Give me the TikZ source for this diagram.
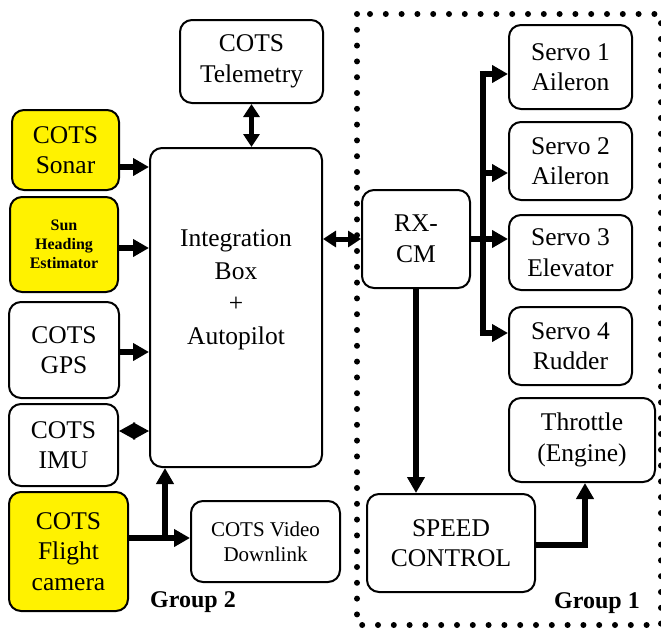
\documentclass[tikz,border=0pt]{standalone}
\usepackage{fontspec}
\setmainfont{Liberation Serif}
\usetikzlibrary{arrows.meta}
\begin{document}
\begin{tikzpicture}[x=1pt,y=-1pt,
  box/.style={draw,line width=2pt,rounded corners=12pt,inner sep=0pt,align=center,
    font=\fontsize{25.5}{30.5}\selectfont},
  hot/.style={box,fill=yellow},
  wire/.style={line width=6.5pt},
  arr/.style={wire,-{Triangle[length=16pt,width=17pt]}},
  darr/.style={line width=5pt,{Triangle[length=13pt,width=16pt]}-{Triangle[length=13pt,width=16pt]}},
  grouplabel/.style={font=\bfseries\fontsize{24}{28}\selectfont}]
\useasboundingbox (0,0) rectangle (661,629);

% group 1 frame (right edge runs along the page border)
\begin{scope}
\clip (0,0) rectangle (661,629);
\draw[line width=6pt,line cap=round,dash pattern=on 0pt off 15.8pt] (357,14) rectangle (661,625);
\end{scope}

% group 2 blocks
\node[box,minimum width=143pt,minimum height=83pt] (tel) at (251.5,61.5) {COTS\\Telemetry};
\node[box,minimum width=172pt,minimum height=319pt] (integ) at (236,307.5) {};
\node[align=center,font=\fontsize{25.5}{32.5}\selectfont] (integtext) at (236,290) {Integration\\Box\\+\\Autopilot};
\node[hot,minimum width=107pt,minimum height=80pt] (sonar) at (65.5,150) {COTS\\Sonar};
\node[hot,minimum width=108pt,minimum height=95pt,font=\bfseries\fontsize{16}{19}\selectfont] (sun) at (64,244.5) {Sun\\Heading\\Estimator};
\node[box,minimum width=110pt,minimum height=96pt] (gps) at (64,350) {COTS\\GPS};
\node[box,minimum width=109pt,minimum height=82pt] (imu) at (63.5,445) {COTS\\IMU};
\node[hot,minimum width=119pt,minimum height=119pt] (cam) at (68.5,551.5) {COTS\\Flight\\camera};
\node[box,minimum width=149pt,minimum height=81pt,font=\fontsize{21}{25}\selectfont] (vid) at (265.5,541.5) {COTS Video\\Downlink};
\node[grouplabel] (g2) at (193,602) {Group 2};

% group 1 blocks
\node[box,minimum width=108pt,minimum height=98pt] (rx) at (416,239) {RX-\\CM};
\node[box,minimum width=123pt,minimum height=84pt] (s1) at (570.5,67) {Servo 1\\Aileron};
\node[box,minimum width=123pt,minimum height=78pt] (s2) at (570.5,161) {Servo 2\\Aileron};
\node[box,minimum width=123pt,minimum height=75pt] (s3) at (570.5,252.5) {Servo 3\\Elevator};
\node[box,minimum width=123pt,minimum height=78pt] (s4) at (570.5,346) {Servo 4\\Rudder};
\node[box,minimum width=146pt,minimum height=84pt] (thr) at (582,440) {Throttle\\(Engine)};
\node[box,minimum width=168pt,minimum height=98pt] (spd) at (451,543) {SPEED\\CONTROL};
\node[grouplabel] (g1) at (597,603) {Group 1};

% sensor inputs
\draw[darr] (tel.south) -- (tel.south |- integ.north);
\draw[arr] ([yshift=-17pt]sonar.east) -- ([yshift=-17pt]sonar.east -| integ.west);
\draw[arr] ([yshift=-3.5pt]sun.east) -- ([yshift=-3.5pt]sun.east -| integ.west);
\draw[arr] ([yshift=-2pt]gps.east) -- ([yshift=-2pt]gps.east -| integ.west);
\draw[line width=2pt,{Triangle[length=16pt,width=17pt]}-{Triangle[length=16pt,width=17pt]}]
  ([yshift=14pt]imu.east) -- ([yshift=14pt]imu.east -| integ.west);

% camera feeds
\coordinate (camjoin) at (165,538);
\draw[arr] (cam.east |- camjoin) -- (vid.west |- camjoin);
\draw[arr] (camjoin) -- (camjoin |- integ.south);

% autopilot to receiver
\draw[darr] (integ.east |- rx.west) -- (rx.west);

% receiver to servos
\coordinate (bustop) at (483,74);
\coordinate (busbot) at (483,333);
\draw[wire] (rx.east) -- (rx.east -| bustop);
\draw[wire] ([yshift=3.25pt]bustop) -- ([yshift=-3.25pt]busbot);
\draw[arr] ([xshift=-3.25pt]bustop) -- (s1.west |- bustop);
\draw[arr] (bustop |- 0,173) -- (s2.west |- 0,173);
\draw[arr] (rx.east -| bustop) -- (rx.east -| s3.west);
\draw[arr] ([xshift=-3.25pt]busbot) -- (s4.west |- busbot);

% speed control chain
\draw[arr] (rx.south) -- (rx.south |- spd.north);
\draw[arr] ([yshift=-2pt]spd.east) -| ([xshift=3pt]thr.south);
\end{tikzpicture}
\end{document}
